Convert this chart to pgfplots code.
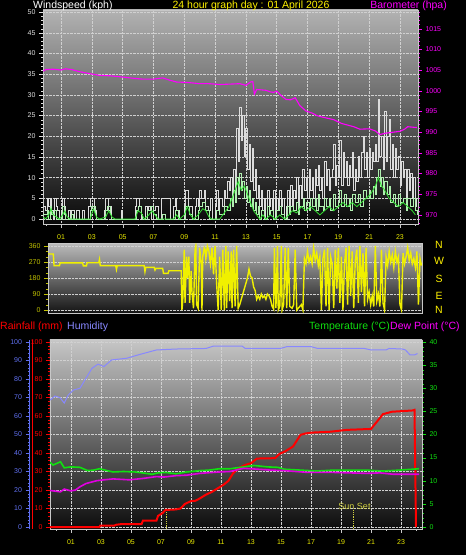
\documentclass[border=0pt]{standalone}
\usepackage{fontspec}
\setmainfont{Liberation Sans}
\usepackage{pgfplots}
\pgfplotsset{compat=1.18}
\definecolor{bgtopA}{HTML}{B2B2B2}
\definecolor{bgbotA}{HTML}{080808}
\definecolor{bgtopB}{HTML}{BCBCBC}
\definecolor{bgbotB}{HTML}{141414}
\definecolor{bgtopC}{HTML}{C6C6C6}
\definecolor{bgbotC}{HTML}{0C0C0C}
\definecolor{framegray}{HTML}{C8C8C8}
\definecolor{gridgray}{HTML}{D0D0D0}
\definecolor{hourcol}{HTML}{E8E800}
\definecolor{windlab}{HTML}{E0E0E0}
\definecolor{baro}{HTML}{FF00FF}
\definecolor{dirlab}{HTML}{C0C000}
\definecolor{diryel}{HTML}{F0F000}
\definecolor{humcol}{HTML}{8888FF}
\definecolor{humlab}{HTML}{6070F0}
\definecolor{raincol}{HTML}{FF0000}
\definecolor{tempcol}{HTML}{10E010}
\definecolor{dewcol}{HTML}{E000E0}
\definecolor{gustcol}{HTML}{DCDCDC}
\definecolor{avgcol}{HTML}{B0F0B0}
\definecolor{spdcol}{HTML}{30E030}
\definecolor{sunc}{HTML}{D0D040}
\pgfplotsset{
  base/.style={scale only axis, anchor=south west, tick align=outside,
    /pgf/number format/assume math mode=true,
    every tick label/.append style={font=\fontsize{7}{8}\selectfont},
    major tick length=4pt, minor tick length=2pt,
    axis line style={draw=framegray, line width=0.8pt},
    major grid style={draw=gridgray, densely dotted, line width=0.5pt},
  },
}
\begin{document}
\begin{tikzpicture}
\fill[black] (0pt,0pt) rectangle (466pt,555pt);
\useasboundingbox (0pt,0pt) rectangle (466pt,555pt);

% ---------------- Panel 1: wind speed ----------------
\begin{axis}[base, at={(43pt,331pt)}, width=375pt, height=214pt,
  xmin=-0.17, xmax=24.17, ymin=-1.2, ymax=50.5,
  axis background/.style={shade, top color=bgtopA, bottom color=bgbotA},
  tick pos=left,
  xtick={1,3,...,23}, xticklabels={01,03,05,07,09,11,13,15,17,19,21,23},
  minor xtick={0,2,...,24},
  ytick={0,5,...,50}, minor ytick={0,1,...,50},
  grid=major,
  xticklabel style={text=hourcol, yshift=-3pt},
  yticklabel style={text=windlab},
  y tick style={windlab}, x tick style={framegray},
]
\addplot[gustcol, line width=0.9pt, const plot] coordinates {
(-0.15,3)(0.0,2)(0.1,5)(0.2,3)(0.3,5)(0.4,2)(0.5,0)(0.6,5)(0.7,3)(0.8,2)(0.9,0)(1.0,2)(1.1,5)(1.2,3)(1.3,0)(1.5,2)(1.6,0)(1.7,2)(1.9,0)(2.0,2)(2.2,0)(2.4,2)(2.5,0)(2.8,3)(2.9,5)(3.1,5)(3.2,2)(3.3,0)(3.6,0)(3.8,2)(3.9,5)(4.1,2)(4.2,3)(4.3,0)(4.9,2)(5.0,0)(5.8,3)(5.9,5)(6.1,3)(6.2,0)(6.5,3)(6.6,2)(6.7,3)(6.9,0)(7.0,2)(7.1,3)(7.3,0)(7.5,5)(8.1,0)(8.3,3)(8.4,5)(8.5,2)(8.7,0)(9.0,3)(9.1,7)(9.3,3)(9.5,0)(9.7,3)(9.8,5)(9.9,3)(10.0,7)(10.1,5)(10.3,7)(10.4,3)(10.6,2)(10.7,5)(10.8,0)(11.0,3)(11.1,7)(11.2,2)(11.3,5)(11.5,3)(11.6,7)(11.7,5)(11.8,9)(11.9,7)(12.0,10)
(12.1,5)(12.2,12)(12.3,7)(12.4,22)(12.5,14)(12.6,27)(12.7,19)(12.8,25)(12.9,15)(13.0,22)(13.1,12)(13.2,18)(13.3,9)(13.4,17)(13.5,7)(13.6,12)(13.7,5)(13.8,8)(13.9,3)(14.0,7)(14.1,2)(14.2,5)(14.3,0)(14.4,7)(14.5,3)(14.6,5)(14.7,2)(14.8,7)(14.9,0)(15.0,5)(15.1,2)(15.2,7)(15.3,3)(15.4,5)(15.5,0)(15.6,3)(15.7,7)(15.8,2)(15.9,8)(16.0,3)(16.1,7)(16.2,5)(16.3,10)(16.4,3)(16.5,8)(16.6,5)(16.7,12)(16.8,7)(16.9,10)(17.0,5)(17.1,12)(17.2,7)(17.3,10)(17.4,5)(17.5,12)(17.6,8)(17.7,13)(17.8,7)(17.9,10)(18.0,5)(18.1,14)(18.2,8)(18.3,12)(18.4,7)(18.5,10)(18.6,12)(18.7,18)(18.8,8)(18.9,13)(19.0,10)(19.1,19)(19.2,8)(19.3,16)(19.4,10)(19.5,14)(19.6,8)(19.7,13)(19.8,10)(19.9,16)(20.0,7)(20.1,12)(20.2,9)(20.3,15)(20.4,10)(20.5,16)(20.6,20)(20.7,12)(20.8,16)(20.9,10)(21.0,17)(21.1,12)(21.2,16)(21.3,14)(21.4,18)(21.5,14)(21.6,29)(21.7,15)(21.8,20)(21.9,12)(22.0,26)(22.1,14)(22.2,20)(22.3,24)(22.4,12)(22.5,18)(22.6,10)(22.7,17)(22.8,12)(22.9,15)(23.0,8)(23.1,14)(23.2,10)(23.3,12)(23.4,5)(23.5,12)(23.6,7)(23.7,11)(23.8,5)(23.9,10)(24.0,5)(24.1,3)
};
\addplot[avgcol, line width=0.8pt, const plot] coordinates {
(-0.15,1)(0.1,2)(0.2,0)(0.3,3)(0.4,1)(0.6,2)(0.7,0)(1.1,3)(1.2,1)(1.3,0)(1.7,1)(1.8,0)(2.9,2)(3.0,3)(3.2,1)(3.3,0)(3.9,2)(4.0,3)(4.2,1)(4.3,0)(5.9,2)(6.0,3)(6.2,1)(6.3,0)(6.6,2)(6.8,3)(7.0,1)(7.2,0)(7.6,1)(7.8,0)(8.4,2)(8.6,0)(9.1,3)(9.3,1)(9.5,0)(9.9,2)(10.0,3)(10.2,4)(10.4,2)(10.6,0)(11.1,2)(11.3,1)(11.6,3)(11.8,2)(12.0,5)
(12.1,3)(12.2,7)(12.3,4)(12.4,10)(12.5,6)(12.6,11)(12.7,7)(12.8,9)(12.9,5)(13.0,8)(13.1,4)(13.2,7)(13.3,3)(13.4,5)(13.5,2)(13.6,4)(13.7,1)(13.8,3)(13.9,0)(14.0,2)(14.2,0)(14.4,3)(14.5,1)(14.6,2)(14.8,0)(15.0,2)(15.2,3)(15.3,1)(15.5,0)(15.7,3)(15.8,1)(15.9,3)(16.1,2)(16.3,4)(16.4,1)(16.5,3)(16.7,5)(16.8,2)(16.9,4)(17.1,2)(17.2,5)(17.3,3)(17.5,5)(17.6,2)(17.7,6)(17.8,3)(18.0,2)(18.1,5)(18.2,3)(18.4,5)(18.5,2)(18.7,6)(18.8,3)(19.0,4)(19.1,7)(19.2,3)(19.4,6)(19.5,3)(19.7,5)(19.8,2)(19.9,6)(20.1,4)(20.3,6)(20.4,3)(20.6,7)(20.8,5)(21.0,7)(21.1,5)(21.3,8)(21.4,6)(21.5,10)(21.6,12)(21.7,8)(21.8,10)(21.9,6)(22.0,9)(22.2,6)(22.3,8)(22.4,4)(22.6,6)(22.7,3)(22.9,6)(23.0,4)(23.2,5)(23.4,2)(23.5,5)(23.7,3)(23.9,5)(24.0,2)(24.1,1)
};
\addplot[spdcol, line width=0.8pt] coordinates {
(-0.15,0.5)(0.0,0)(0.2,1)(0.35,2.5)(0.5,1)(0.7,0.5)(0.9,0)(1.1,1)(1.25,2)(1.4,0.5)(1.6,0)(2.9,0)(3.1,2.5)(3.3,0.5)(3.5,0)(3.9,0.5)(4.1,2)(4.3,0.5)(4.5,0)(5.8,0)(6.0,2)(6.2,1.5)(6.4,0)(6.7,1)(6.9,2)(7.1,1)(7.3,0)(8.3,0)(8.5,1)(8.7,0)(9.0,1)(9.2,3)(9.4,1)(9.6,0)(9.9,1)(10.2,2.5)(10.4,2)(10.6,0.5)(10.8,0)(11.3,0)(11.5,1)(11.7,2)(11.9,3)(12.1,5)(12.3,7)(12.5,9)(12.7,7)(12.9,8)(13.1,6)(13.3,4)(13.5,2)(13.7,1)(13.9,0)(14.1,1)(14.3,0)(14.6,1)(14.9,0)(15.2,1)(15.5,0)(15.8,1)(16.0,2)(16.3,1.5)(16.6,3)(16.9,2)(17.2,3)(17.5,2)(17.8,1)(18.1,2)(18.4,3)(18.7,2)(19.0,3)(19.3,4)(19.6,3)(19.9,4)(20.2,3)(20.5,4)(20.8,5)(21.1,6)(21.4,8)(21.6,10)(21.8,8)(22.0,7)(22.3,5)(22.6,4)(22.9,3)(23.2,4)(23.5,3)(23.8,2)(24.0,1)
};
\end{axis}

% ---------------- Panel 1: barometer ----------------
\begin{axis}[base, at={(43pt,331pt)}, width=375pt, height=214pt,
  xmin=-0.17, xmax=24.17, ymin=967.8, ymax=1019.5,
  axis y line*=right, hide x axis,
  ytick={970,975,...,1015}, minor ytick={968,969,...,1019},
  yticklabel style={text=baro}, y tick style={baro},
  /pgf/number format/1000 sep={},
]
\addplot[baro, line width=1.1pt] coordinates {
(-0.15,1004.7)(0.0,1005.1)(0.5,1005.2)(1.0,1005.0)(1.3,1005.3)(1.7,1005.1)(2.2,1004.6)(2.9,1004.1)(3.5,1003.7)(4.2,1003.6)(5.0,1003.3)(5.7,1003.0)(6.3,1002.8)(7.0,1002.8)(7.6,1003.1)(8.0,1002.6)(8.5,1002.1)(9.2,1002.0)(10.0,1001.7)(10.6,1001.7)(11.3,1001.5)(12.0,1001.6)(12.6,1001.7)(13.0,1001.3)(13.3,1002.1)(13.45,1002.2)(13.55,999.2)(13.7,1000.3)(14.0,1000.2)(14.3,1000.1)(14.6,999.7)(14.8,999.6)(15.0,999.9)(15.3,998.8)(15.6,997.9)(15.9,997.8)(16.2,998.3)(16.5,996.4)(16.9,995.1)(17.3,994.6)(17.6,994.0)(18.0,993.6)(18.7,993.0)(19.2,992.1)(19.7,991.6)(20.0,991.3)(20.4,990.7)(21.0,990.8)(21.4,990.3)(21.7,989.4)(22.0,989.7)(22.4,989.9)(23.0,990.2)(23.3,990.7)(23.5,991.3)(23.8,991.2)(24.1,991.1)
};
\end{axis}

% ---------------- Panel 2: wind direction ----------------
\begin{axis}[base, at={(48pt,242pt)}, width=374pt, height=70pt,
  xmin=0.156, xmax=24.43, ymin=-16.9, ymax=376.9,
  axis background/.style={shade, top color=bgtopB, bottom color=bgbotB},
  tick pos=left, xtick=\empty,
  ytick={0,90,...,360}, minor ytick={0,30,...,360},
  ymajorgrids,
  yticklabel style={text=dirlab}, y tick style={dirlab},
]
\addplot[diryel, line width=1.4pt] coordinates {
(0.16,315)(0.5,315)(0.55,250)(0.9,250)(0.95,265)(2.4,265)(2.45,248)(2.65,248)(2.7,266)(3.45,266)(3.5,285)(3.55,250)(4.55,250)(4.6,228)(4.65,250)(6.4,250)(6.45,216)(6.5,240)(7.05,240)(7.1,225)(7.15,234)(7.6,234)(7.65,206)(7.95,206)(8.0,221)(8.8,221)
(8.85,0)(8.9,50)(9.0,340)(9.05,40)(9.15,300)(9.2,180)(9.3,300)(9.35,40)(9.45,220)(9.5,100)(9.6,10)(9.7,340)(9.75,360)(9.8,30)(9.9,10)(10.0,350)(10.1,260)(10.15,0)(10.2,300)(10.3,350)(10.35,340)(10.4,290)(10.5,360)(10.6,330)(10.7,260)(10.8,350)(10.9,200)(11.0,360)(11.1,150)(11.2,0)(11.3,300)(11.4,0)(11.5,340)(11.6,0)(11.7,360)(11.75,10)(11.85,330)(11.95,50)(12.05,330)(12.1,10)(12.2,340)(12.3,20)(12.4,360)(12.5,10)(12.6,30)(12.7,60)(12.8,90)(12.9,120)(13.0,150)(13.1,180)(13.2,230)(13.3,190)(13.4,180)(13.5,130)(13.6,110)(13.7,60)(13.8,80)(13.9,60)(14.0,90)(14.1,70)(14.2,80)(14.3,60)(14.4,90)(14.5,80)(14.6,60)(14.7,20)(14.8,5)(14.85,350)(14.95,10)(15.05,360)(15.1,0)(15.2,20)(15.3,360)(15.35,0)(15.45,30)(15.55,350)(15.65,10)(15.75,350)(15.85,20)(16.0,10)(16.1,30)(16.2,340)(16.3,0)(16.5,20)(16.6,30)(16.7,0)(16.8,290)(16.9,260)(17.0,330)(17.1,270)(17.2,300)(17.3,260)(17.4,350)(17.5,280)(17.6,320)(17.7,250)(17.8,300)(17.9,0)(18.0,290)(18.1,340)(18.2,20)(18.3,350)(18.4,0)(18.5,300)(18.6,260)(18.7,10)(18.8,340)(18.9,120)(19.0,350)(19.1,40)(19.2,300)(19.3,0)(19.4,260)(19.5,350)(19.6,30)(19.7,360)(19.8,80)(19.9,330)(20.0,10)(20.1,280)(20.2,340)(20.3,40)(20.4,360)(20.5,100)(20.6,320)(20.7,20)(20.8,350)(20.9,60)(21.0,100)(21.1,30)(21.2,80)(21.3,20)(21.4,360)(21.5,50)(21.6,90)(21.7,20)(21.8,340)(21.9,40)(22.0,0)(22.1,300)(22.2,250)(22.3,330)(22.4,270)(22.5,310)(22.6,240)(22.7,330)(22.8,270)(22.9,300)(23.0,30)(23.1,0)(23.2,320)(23.3,260)(23.4,300)(23.5,350)(23.6,280)(23.7,320)(23.8,260)(23.9,290)(24.0,240)(24.1,330)(24.2,30)(24.3,290)(24.4,250)
};
\end{axis}

% ---------------- Panel 3: rain / humidity ----------------
\begin{axis}[base, at={(50pt,26pt)}, width=372pt, height=189pt,
  xmin=-0.4, xmax=24.4, ymin=-1.08, ymax=101.08,
  axis background/.style={shade, top color=bgtopC, bottom color=bgbotC},
  tick pos=left,
  xtick={1,3,...,23}, xticklabels={01,03,05,07,09,11,13,15,17,19,21,23},
  minor xtick={0,2,...,24},
  ytick={0,10,...,100}, minor ytick={0,2,...,100},
  grid=major,
  xticklabel style={text=hourcol, yshift=-3pt},
  yticklabel style={text=raincol},
  y tick style={raincol}, x tick style={framegray},
]
\addplot[humcol, line width=1pt] coordinates {
(-0.4,68.6)(-0.07,70.8)(0.27,69.9)(0.55,67)(0.82,71.4)(1.15,74)(1.6,75)(1.93,79.5)(2.4,85.8)(2.8,88)(3.2,86.7)(3.7,90.3)(4.7,91.2)(5.6,93.3)(6.7,95.7)(8.0,96.2)(10.0,96.5)(10.5,97.8)(12.4,97.8)(12.6,96.6)(15.0,96.6)(15.4,97.5)(17.0,97.5)(17.4,96.6)(20.5,96.6)(21.0,95.7)(22.0,95.7)(22.2,96.5)(23.1,96.2)(23.3,95.7)(23.6,93)(23.9,93)(24.1,93.8)
};
\addplot[sunc, densely dotted, line width=0.8pt] coordinates {(7.33,-1.08)(7.33,9)};
\addplot[sunc, densely dotted, line width=0.8pt] coordinates {(19.8,-1.08)(19.8,9)};
\addplot[raincol, line width=2pt] coordinates {
(-0.4,0)(2.9,0)(2.95,0.8)(3.9,0.8)(4.0,1.2)(4.3,1.5)(5.7,1.5)(5.8,3.5)(6.7,3.5)(6.8,6)(7.1,7.5)(7.3,9.2)(8.0,9.5)(8.3,10)(8.6,12.5)(9.0,14)(9.3,14.2)(9.6,15.5)(10.0,17.5)(10.4,19)(10.8,21)(11.2,23)(11.5,25)(11.8,29)(12.2,32)(12.6,33.5)(13.0,34.5)(13.4,37)(14.6,37.2)(14.9,39.5)(15.3,41)(15.8,43.5)(16.3,49.8)(16.6,50.5)(17.0,51)(18.3,51.5)(19.4,52.5)(21.0,53)(21.3,56)(21.8,61)(22.4,62.3)(23.8,63)(23.9,63.3)(24.0,0)
};
\node[text=sunc, font=\fontsize{9}{10}\selectfont, inner sep=0] at (axis cs:19.9,11.2) {Sun Set};
\end{axis}

% ---------------- Panel 3: temperature / dew point ----------------
\begin{axis}[base, at={(50pt,26pt)}, width=372pt, height=189pt,
  xmin=-0.4, xmax=24.4, ymin=-0.432, ymax=40.432,
  axis y line*=right, hide x axis,
  ytick={0,5,...,40}, minor ytick={0,1,...,40},
  yticklabel style={text=tempcol}, y tick style={tempcol},
]
\addplot[tempcol, line width=1.6pt] coordinates {
(-0.4,14.0)(-0.2,13.4)(0.3,14.1)(0.55,12.8)(1.0,13.0)(1.6,12.9)(2.1,12.2)(2.5,12.3)(2.9,12.6)(3.4,12.2)(3.8,11.9)(4.5,12.0)(5.3,11.9)(6.0,11.6)(6.4,11.4)(6.8,11.7)(7.3,11.8)(8.0,11.5)(8.7,11.9)(9.6,12.2)(10.2,12.3)(10.9,12.6)(11.6,12.6)(12.3,12.9)(13.2,13.3)(14.1,13.0)(14.8,12.9)(15.2,12.5)(16.3,12.3)(17.4,12.1)(18.5,12.3)(20.7,12.3)(21.2,12.2)(21.8,12.1)(22.9,12.3)(23.8,12.5)(24.2,12.6)
};
\addplot[dewcol, line width=1.6pt] coordinates {
(-0.4,7.9)(0.3,7.6)(0.55,8.2)(1.0,7.8)(1.3,8.0)(1.6,8.7)(2.0,9.4)(2.7,10.0)(3.2,10.2)(3.8,10.4)(4.9,10.2)(5.8,10.5)(6.7,10.9)(7.2,10.8)(8.0,11.1)(8.7,11.2)(9.6,11.6)(10.9,11.9)(11.6,12.0)(12.5,12.7)(13.4,12.5)(14.3,12.3)(15.2,12.2)(16.0,12.0)(16.8,11.8)(18.5,11.8)(20.7,11.6)(21.6,11.7)(22.5,11.4)(24.0,11.4)(24.2,11.4)
};
\end{axis}

% ---------------- Humidity scale (blue) ----------------
\begin{axis}[base, at={(29.5pt,26pt)}, width=1pt, height=189pt,
  xmin=0, xmax=1, ymin=-1.08, ymax=101.08,
  axis y line*=left, hide x axis,
  axis line style={draw=humlab, line width=1.2pt},
  ytick={0,10,...,100}, minor ytick={0,2,...,100},
  yticklabel style={text=humlab}, y tick style={humlab},
]
\end{axis}
\draw[raincol, line width=1pt] (32pt,26pt) -- (32pt,215pt);

% ---------------- Titles ----------------
\begin{scope}[every node/.style={inner sep=0, font=\fontsize{10.5}{12}\selectfont}]
\node[anchor=west, text=white] at (33pt,549pt) {Windspeed (kph)};
\node[text=yellow] at (251pt,549pt) {24 hour graph day : 01 April 2026};
\node[anchor=east, text=baro] at (447pt,549pt) {Barometer (hpa)};
\node[anchor=west, text=raincol] at (0pt,228pt) {Rainfall (mm)};
\node[anchor=west, text=humcol] at (67pt,228pt) {Humidity};
\node[anchor=east, text=tempcol] at (390pt,228pt) {Temperature (°C)};
\node[anchor=west, text=baro] at (390pt,228pt) {Dew Point (°C)};
\node[text=yellow] at (439pt,310pt) {N};
\node[text=yellow] at (439pt,294pt) {W};
\node[text=yellow] at (439pt,276pt) {S};
\node[text=yellow] at (439pt,259pt) {E};
\node[text=yellow] at (439pt,245pt) {N};
\end{scope}
\end{tikzpicture}
\end{document}
